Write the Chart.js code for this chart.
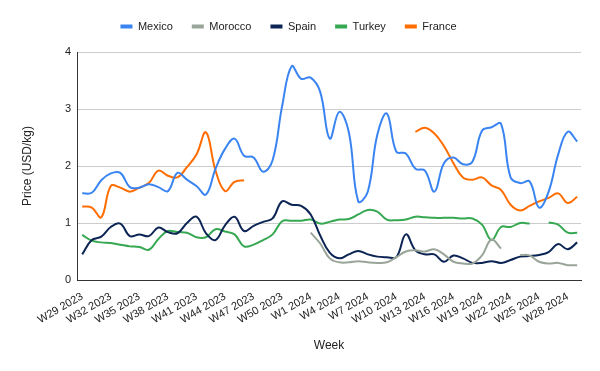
<!DOCTYPE html>
<html><head><meta charset="utf-8">
<script src="https://cdn.jsdelivr.net/npm/chart.js@4.4.0/dist/chart.umd.min.js"></script>
<style>html,body{margin:0;padding:0;background:#fff}#wrap{width:600px;height:371px;position:relative}</style>
</head><body><div id="wrap"><canvas id="c"></canvas></div>
<script>
const weeks = ["W29 2023","W30 2023","W31 2023","W32 2023","W33 2023","W34 2023","W35 2023","W36 2023","W37 2023","W38 2023","W39 2023","W40 2023","W41 2023","W42 2023","W43 2023","W44 2023","W45 2023","W46 2023","W47 2023","W48 2023","W49 2023","W50 2023","W51 2023","W52 2023","W1 2024","W2 2024","W3 2024","W4 2024","W5 2024","W6 2024","W7 2024","W8 2024","W9 2024","W10 2024","W11 2024","W12 2024","W13 2024","W14 2024","W15 2024","W16 2024","W17 2024","W18 2024","W19 2024","W20 2024","W21 2024","W22 2024","W23 2024","W24 2024","W25 2024","W26 2024","W27 2024","W28 2024","W29 2024"];
const labelStep = 3;
const mexico = [1.52,1.53,1.75,1.87,1.88,1.63,1.62,1.68,1.63,1.56,1.88,1.76,1.65,1.50,1.95,2.30,2.48,2.18,2.15,1.90,2.10,3.05,3.75,3.53,3.55,3.30,2.48,2.95,2.60,1.38,1.55,2.55,2.92,2.25,2.22,1.95,1.92,1.55,2.05,2.15,2.03,2.08,2.62,2.68,2.74,1.80,1.70,1.73,1.27,1.55,2.20,2.60,2.43];
const morocco = [null,null,null,null,null,null,null,null,null,null,null,null,null,null,null,null,null,null,null,null,null,null,null,null,0.83,0.64,0.38,0.31,0.31,0.33,0.31,0.30,0.31,0.40,0.50,0.52,0.50,0.54,0.45,0.32,0.29,0.29,0.43,0.71,0.55,null,0.44,0.43,0.32,0.29,0.30,0.26,0.26];
const spain = [0.45,0.70,0.76,0.93,0.99,0.77,0.80,0.77,0.92,0.84,0.82,1.00,1.11,0.82,0.70,0.96,1.11,0.86,0.95,1.02,1.08,1.38,1.32,1.30,1.15,0.78,0.48,0.38,0.45,0.51,0.45,0.41,0.40,0.40,0.80,0.52,0.45,0.45,0.32,0.43,0.38,0.30,0.30,0.33,0.30,0.35,0.41,0.42,0.44,0.49,0.63,0.54,0.66];
const turkey = [0.79,0.69,0.66,0.65,0.62,0.59,0.58,0.53,0.72,0.86,0.84,0.83,0.75,0.75,0.89,0.85,0.80,0.59,0.62,0.70,0.80,1.03,1.04,1.04,1.06,0.99,1.02,1.06,1.07,1.15,1.23,1.20,1.06,1.05,1.06,1.11,1.10,1.09,1.09,1.09,1.08,1.08,0.97,0.70,0.93,0.93,1.00,0.99,null,1.01,0.97,0.83,0.83];
const france = [1.29,1.27,1.10,1.65,1.62,1.55,1.62,1.70,1.92,1.83,1.80,1.98,2.20,2.59,1.92,1.56,1.72,1.75,null,null,null,null,null,null,null,null,null,null,null,null,null,null,null,null,null,2.60,2.67,2.57,2.35,2.05,1.80,1.76,1.80,1.66,1.58,1.32,1.22,1.30,1.38,1.44,1.52,1.35,1.46];
const seriesNames = ["Mexico","Morocco","Spain","Turkey","France"];
const seriesColors = ["#3a84f2","#9aa59a","#0c2454","#36a852","#ff6d01"];
const seriesValues = [mexico, morocco, spain, turkey, france];

const FONT = "'Liberation Sans', Arial, sans-serif";
const datasets = seriesValues.map((vals, k) => ({
  label: seriesNames[k],
  data: vals.map((v, i) => ({x: i, y: v})),
  borderColor: seriesColors[k],
  backgroundColor: seriesColors[k],
  borderWidth: 2,
  pointRadius: 0,
  tension: 0.4,
  spanGaps: false
}));

const legendTweak = {
  id: 'legendTweak',
  beforeInit(chart) {
    const fit = chart.legend.fit;
    chart.legend.fit = function () { fit.bind(chart.legend)(); this.height += 10; };
  },
  afterLayout(chart) {
    chart.legend.left -= 10;
    chart.legend.right -= 10;
  }
};

new Chart(document.getElementById('c'), {
  type: 'line',
  data: {datasets},
  plugins: [legendTweak],
  options: {
    responsive: true,
    maintainAspectRatio: false,
    animation: false,
    layout: {padding: {left: 16, right: 19, top: 2, bottom: 14}},
    plugins: {
      tooltip: {enabled: false},
      legend: {
        position: 'top',
        labels: {
          font: {family: FONT, size: 11},
          color: '#222',
          boxWidth: 12,
          boxHeight: 4,
          padding: 19,
          generateLabels: (chart) => chart.data.datasets.map((d, i) => ({
            text: d.label, fillStyle: d.borderColor, strokeStyle: d.borderColor,
            lineWidth: 0, hidden: false, datasetIndex: i, fontColor: '#222'
          }))
        }
      }
    },
    scales: {
      x: {
        type: 'linear',
        min: -0.55,
        max: 52.4,
        afterBuildTicks: (scale) => {
          scale.ticks = weeks.map((w, i) => ({value: i})).filter((t) => t.value % labelStep === 0);
        },
        grid: {display: false},
        border: {display: true, color: '#333', width: 1},
        ticks: {
          autoSkip: false,
          minRotation: 30,
          maxRotation: 30,
          padding: 2,
          color: '#222',
          font: {family: FONT, size: 11},
          callback: (v) => weeks[v]
        },
        title: {display: true, text: 'Week', color: '#222', font: {family: FONT, size: 12}},
        afterFit: (scale) => { scale.height = 77; }
      },
      y: {
        min: 0,
        max: 4,
        ticks: {stepSize: 1, color: '#222', padding: 6, font: {family: FONT, size: 11}},
        grid: {color: '#cccccc', lineWidth: 1, drawTicks: false},
        border: {display: true, color: '#333', width: 1},
        title: {display: true, text: 'Price (USD/kg)', color: '#222', font: {family: FONT, size: 12}},
        afterFit: (scale) => { scale.width = 61; }
      }
    }
  }
});
</script>
</body></html>
